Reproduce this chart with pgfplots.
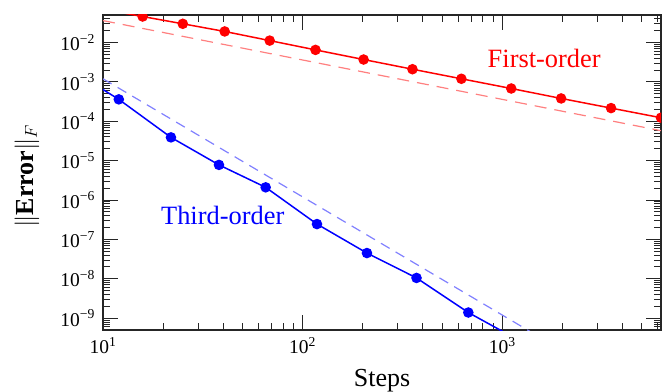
\documentclass[border=0pt]{standalone}
\usepackage{fontspec}
\setmainfont{Liberation Serif}
\usepackage{pgfplots}
\pgfplotsset{compat=1.18}
\definecolor{dred}{rgb}{1,0.5,0.5}
\definecolor{dblue}{rgb}{0.5,0.5,1}
\newcommand{\loglab}{\pgfmathtruncatemacro\ee{round(\tick)}\mbox{\fontsize{19.5bp}{22bp}\selectfont 10\textsuperscript{\ifnum\ee<0 −\number\numexpr-\ee\relax\else\ee\fi}}}
\begin{document}
\begin{tikzpicture}
\begin{axis}[
  xmode=log, ymode=log, log basis x=10, log basis y=10,
  scale only axis, width=558bp, height=315bp,
  xmin=10, xmax=6240, ymin=5e-10, ymax=5e-2,
  axis line style={black!85, line width=1.3bp},
  every tick/.style={black!85, line width=0.9bp},
  major tick length=15bp, minor tick length=7bp,
  xtick={10,100,1000},
  minor xtick={20,30,40,50,60,70,80,90,200,300,400,500,600,700,800,900,2000,3000,4000,5000,6000},
  ytick={1e-9,1e-8,1e-7,1e-6,1e-5,1e-4,1e-3,1e-2},
  minor ytick={6e-10,7e-10,8e-10,9e-10,
    2e-9,3e-9,4e-9,5e-9,6e-9,7e-9,8e-9,9e-9,
    2e-8,3e-8,4e-8,5e-8,6e-8,7e-8,8e-8,9e-8,
    2e-7,3e-7,4e-7,5e-7,6e-7,7e-7,8e-7,9e-7,
    2e-6,3e-6,4e-6,5e-6,6e-6,7e-6,8e-6,9e-6,
    2e-5,3e-5,4e-5,5e-5,6e-5,7e-5,8e-5,9e-5,
    2e-4,3e-4,4e-4,5e-4,6e-4,7e-4,8e-4,9e-4,
    2e-3,3e-3,4e-3,5e-3,6e-3,7e-3,8e-3,9e-3,
    2e-2,3e-2,4e-2},
  xticklabel={\loglab},
  yticklabel={\loglab},
  xticklabel style={anchor=north, yshift=-3.5bp},
  yticklabel style={anchor=east, xshift=-4.5bp},
  xlabel={Steps},
  ylabel={$\|$\textbf{Error}$\|_F$},
  label style={font=\fontsize{26bp}{30bp}\selectfont},
  xlabel style={at={(axis description cs:0.5,0)}, anchor=base, yshift=-56bp},
  ylabel style={at={(axis description cs:0,0.489)}, anchor=center, rotate=0, yshift=76bp},
  clip marker paths=true,
]
\addplot[dred, line width=1.2bp, dash pattern=on 12bp off 8bp] coordinates {(10,0.036) (6237,5.77e-5)};
\addplot[dblue, line width=1.2bp, dash pattern=on 10bp off 7bp] coordinates {(10,1.2e-3) (1400,4.37e-10)};
\addplot[red, line width=1.5bp, mark=*, mark size=4.5bp] coordinates {
  (10,0.07) (15.8,0.0457) (25.1,0.0299) (40.7,0.0191) (68.4,0.0112) (116,6.5e-3)
  (202,3.7e-3) (355,2.1e-3) (624,1.2e-3) (1109,6.8e-4) (1972,3.8e-4)
  (3508,2.16e-4) (6237,1.23e-4)};
\addplot[blue, line width=1.5bp, mark=*, mark size=4.5bp] coordinates {
  (7,1.96e-3) (12.0,3.6e-4) (21.9,3.9e-5) (38.1,7.8e-6) (65.3,2.1e-6) (118,2.45e-7)
  (210,4.5e-8) (372,1.05e-8) (676,1.39e-9) (1200,2.8e-10)};
\node[red, anchor=base, font=\fontsize{26.4bp}{30bp}\selectfont] at (axis cs:1622,2.3e-3) {First-order};
\node[blue, anchor=base, font=\fontsize{26.4bp}{30bp}\selectfont] at (axis cs:39.8,2.35e-7) {Third-order};
\coordinate (SW) at (rel axis cs:0,0);
\coordinate (NE) at (rel axis cs:1,1);
\end{axis}
\pgfresetboundingbox
\path ([shift={(-103bp,-62bp)}]SW) rectangle ([shift={(8bp,15bp)}]NE);
\end{tikzpicture}
\end{document}
